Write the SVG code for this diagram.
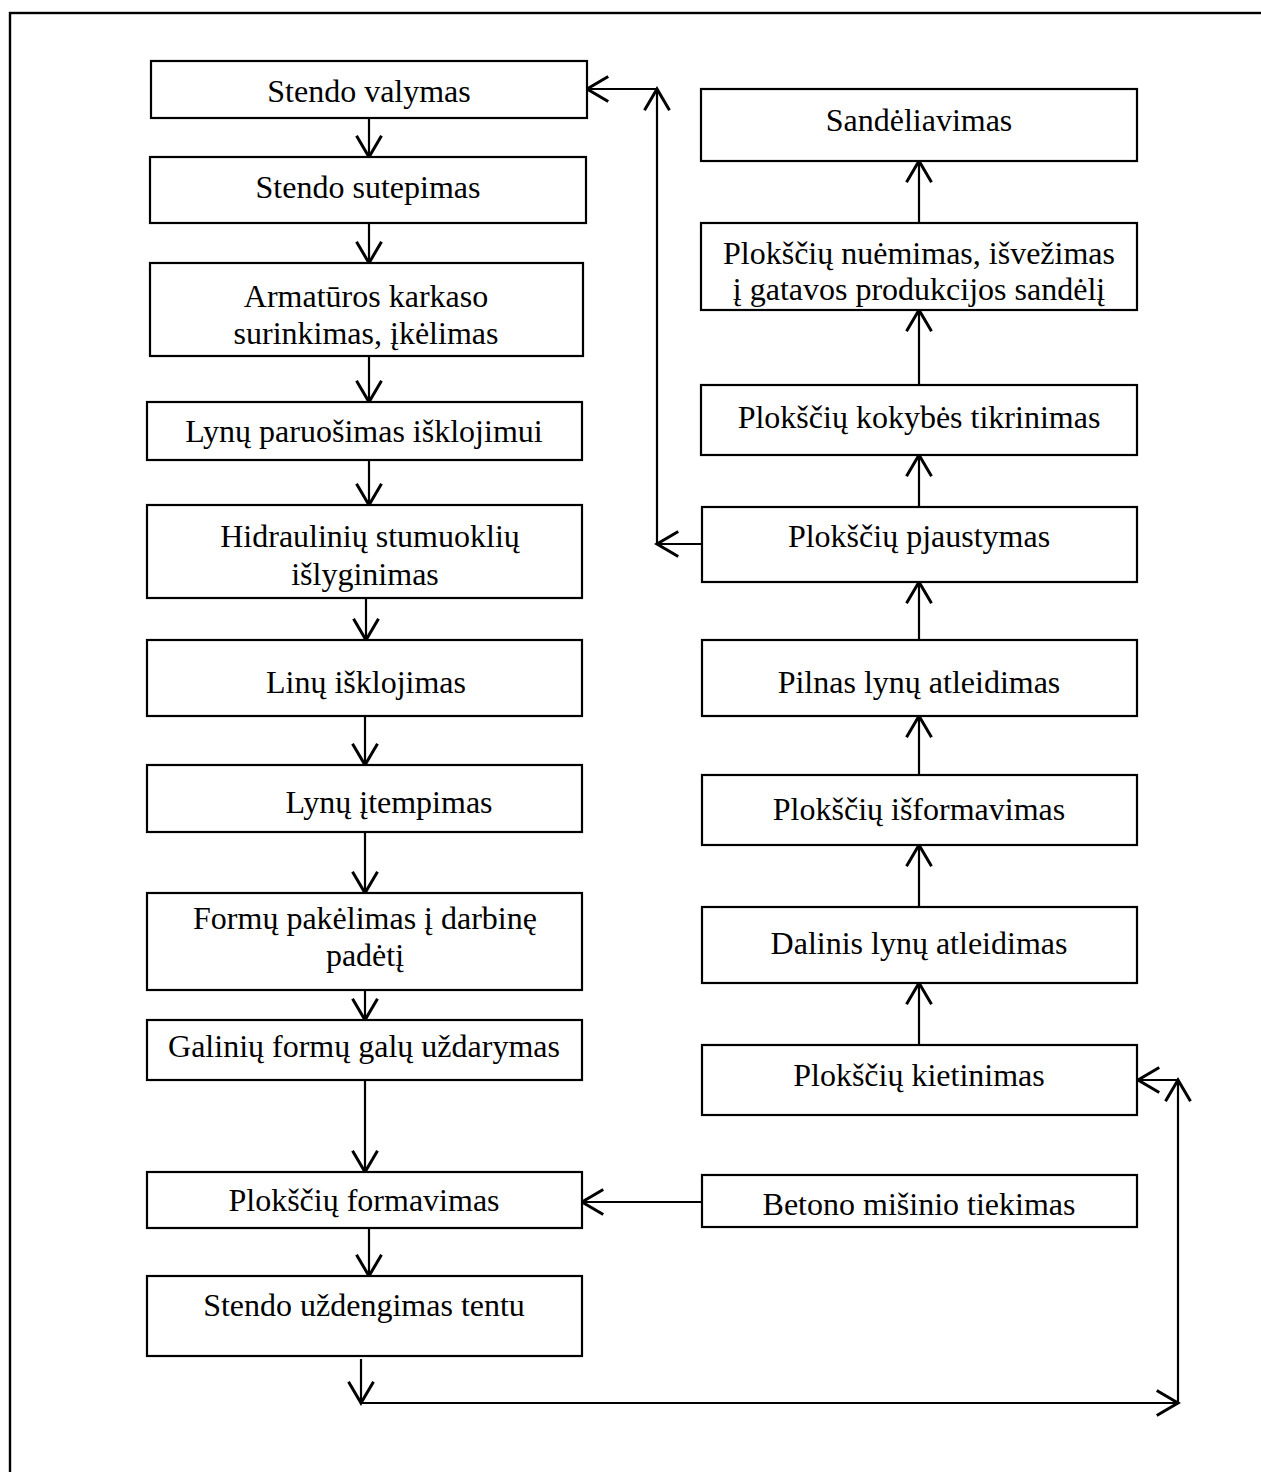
<svg xmlns="http://www.w3.org/2000/svg" width="1261" height="1472" viewBox="0 0 1261 1472">
<style>
.b{fill:#fff;stroke:#000;stroke-width:2.2}
.t{font-family:"Liberation Serif","Times New Roman",serif;font-size:32px;fill:#000;text-anchor:middle}
.c{fill:none;stroke:#000;stroke-width:2.2}
</style>
<defs>
<marker id="a" markerUnits="userSpaceOnUse" markerWidth="30" markerHeight="30" viewBox="-20 -12 24 24" refX="0" refY="0" orient="auto" overflow="visible">
<path d="M-17,-10 L0,0 L-17,10" fill="none" stroke="#000" stroke-width="2.4"/>
</marker>
</defs>
<rect x="0" y="0" width="1261" height="1472" fill="#fff"/>
<rect x="10" y="13" width="1260" height="1480" fill="none" stroke="#000" stroke-width="2.4"/>
<g id="connectors">
<line class="c" x1="369" y1="118" x2="369" y2="157" marker-end="url(#a)"/>
<line class="c" x1="369" y1="223" x2="369" y2="263" marker-end="url(#a)"/>
<line class="c" x1="369" y1="356" x2="369" y2="402" marker-end="url(#a)"/>
<line class="c" x1="369" y1="460" x2="369" y2="505" marker-end="url(#a)"/>
<line class="c" x1="366" y1="598" x2="366" y2="640" marker-end="url(#a)"/>
<line class="c" x1="365" y1="716" x2="365" y2="765" marker-end="url(#a)"/>
<line class="c" x1="365" y1="832" x2="365" y2="893" marker-end="url(#a)"/>
<line class="c" x1="365" y1="990" x2="365" y2="1020" marker-end="url(#a)"/>
<line class="c" x1="365" y1="1080" x2="365" y2="1172" marker-end="url(#a)"/>
<line class="c" x1="369" y1="1228" x2="369" y2="1276" marker-end="url(#a)"/>
<line class="c" x1="361" y1="1359" x2="361" y2="1403" marker-end="url(#a)"/>
<line class="c" x1="361" y1="1403" x2="1178" y2="1403" marker-end="url(#a)"/>
<line class="c" x1="1178" y1="1403" x2="1178" y2="1080" marker-end="url(#a)"/>
<line class="c" x1="1178" y1="1080" x2="1138" y2="1080" marker-end="url(#a)"/>
<line class="c" x1="702" y1="1202" x2="582" y2="1202" marker-end="url(#a)"/>
<line class="c" x1="919" y1="1045" x2="919" y2="983" marker-end="url(#a)"/>
<line class="c" x1="919" y1="907" x2="919" y2="845" marker-end="url(#a)"/>
<line class="c" x1="919" y1="775" x2="919" y2="716" marker-end="url(#a)"/>
<line class="c" x1="919" y1="640" x2="919" y2="582" marker-end="url(#a)"/>
<line class="c" x1="919" y1="507" x2="919" y2="455" marker-end="url(#a)"/>
<line class="c" x1="919" y1="385" x2="919" y2="310" marker-end="url(#a)"/>
<line class="c" x1="919" y1="223" x2="919" y2="161" marker-end="url(#a)"/>
<line class="c" x1="702" y1="544" x2="657" y2="544" marker-end="url(#a)"/>
<line class="c" x1="657" y1="544" x2="657" y2="89" marker-end="url(#a)"/>
<line class="c" x1="657" y1="89" x2="587" y2="89" marker-end="url(#a)"/>
</g>
<g id="n1"><rect class="b" x="151" y="61" width="436" height="57"/><text class="t" x="369" y="102">Stendo valymas</text></g>
<g id="n2"><rect class="b" x="150" y="157" width="436" height="66"/><text class="t" x="368" y="198">Stendo sutepimas</text></g>
<g id="n3"><rect class="b" x="150" y="263" width="433" height="93"/><text class="t" x="366" y="307">Armatūros karkaso</text><text class="t" x="366" y="344">surinkimas, įkėlimas</text></g>
<g id="n4"><rect class="b" x="147" y="402" width="435" height="58"/><text class="t" x="364" y="442">Lynų paruošimas išklojimui</text></g>
<g id="n5"><rect class="b" x="147" y="505" width="435" height="93"/><text class="t" x="370" y="547">Hidraulinių stumuoklių</text><text class="t" x="365" y="585">išlyginimas</text></g>
<g id="n6"><rect class="b" x="147" y="640" width="435" height="76"/><text class="t" x="366" y="693">Linų išklojimas</text></g>
<g id="n7"><rect class="b" x="147" y="765" width="435" height="67"/><text class="t" x="389" y="813">Lynų įtempimas</text></g>
<g id="n8"><rect class="b" x="147" y="893" width="435" height="97"/><text class="t" x="365" y="929">Formų pakėlimas į darbinę</text><text class="t" x="365" y="966">padėtį</text></g>
<g id="n9"><rect class="b" x="147" y="1020" width="435" height="60"/><text class="t" x="364" y="1057">Galinių formų galų uždarymas</text></g>
<g id="n10"><rect class="b" x="147" y="1172" width="435" height="56"/><text class="t" x="364" y="1211">Plokščių formavimas</text></g>
<g id="n11"><rect class="b" x="147" y="1276" width="435" height="80"/><text class="t" x="364" y="1316">Stendo uždengimas tentu</text></g>
<g id="r1"><rect class="b" x="701" y="89" width="436" height="72"/><text class="t" x="919" y="131">Sandėliavimas</text></g>
<g id="r2"><rect class="b" x="701" y="223" width="436" height="87"/><text class="t" x="919" y="264">Plokščių nuėmimas, išvežimas</text><text class="t" x="919" y="300">į gatavos produkcijos sandėlį</text></g>
<g id="r3"><rect class="b" x="701" y="385" width="436" height="70"/><text class="t" x="919" y="428">Plokščių kokybės tikrinimas</text></g>
<g id="r4"><rect class="b" x="702" y="507" width="435" height="75"/><text class="t" x="919" y="547">Plokščių pjaustymas</text></g>
<g id="r5"><rect class="b" x="702" y="640" width="435" height="76"/><text class="t" x="919" y="693">Pilnas lynų atleidimas</text></g>
<g id="r6"><rect class="b" x="702" y="775" width="435" height="70"/><text class="t" x="919" y="820">Plokščių išformavimas</text></g>
<g id="r7"><rect class="b" x="702" y="907" width="435" height="76"/><text class="t" x="919" y="954">Dalinis lynų atleidimas</text></g>
<g id="r8"><rect class="b" x="702" y="1045" width="435" height="70"/><text class="t" x="919" y="1086">Plokščių kietinimas</text></g>
<g id="r9"><rect class="b" x="702" y="1175" width="435" height="52"/><text class="t" x="919" y="1215">Betono mišinio tiekimas</text></g>
</svg>
